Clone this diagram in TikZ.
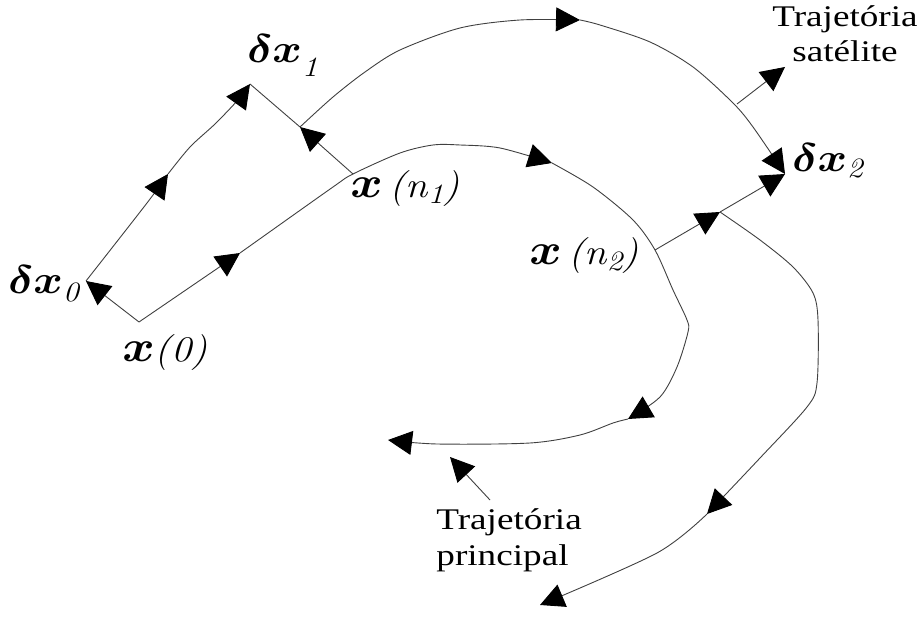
\RequirePackage{fix-cm}
\documentclass[tikz,border=0pt]{standalone}
\usepackage{bm}
\usepackage{fontspec}
\newfontfamily\tms{Liberation Serif}
\usepackage{graphicx}
\usetikzlibrary{arrows.meta}
\newcommand{\hstr}[1]{\scalebox{1.24}[1]{#1}}
\newcommand{\mstr}[1]{\scalebox{1.12}[1]{#1}}
\newcommand{\bx}[1]{{\fontsize{#1}{#1}\selectfont$\bm{x}$}}
\newcommand{\dl}{{\fontsize{20}{20}\selectfont$\bm{\delta}$}}
\newcommand{\sbs}[2]{\raisebox{#1}{\fontsize{14}{14}\selectfont\itshape #2}}
\newcommand{\itx}[1]{{\fontsize{18}{18}\selectfont\itshape #1}}
\begin{document}
\begin{tikzpicture}[x=0.5pt,y=-0.5pt,
  >={Triangle[length=12pt,width=12pt,color=black]},
  traj/.style={draw=black!75, line width=0.45pt, ->},
  plain/.style={draw=black!75, line width=0.45pt},
  lbl/.style={inner sep=0pt, anchor=base west},
  captxt/.style={inner sep=0pt, font=\tms\fontsize{15}{17.5}\selectfont}]
\useasboundingbox (0,0) rectangle (920,619);
% key points
\coordinate (x0) at (139,322);
\coordinate (xn1) at (353,174);
\coordinate (xn2) at (655,250);
\coordinate (dx0) at (86,281);
\coordinate (dx1) at (250,84);
\coordinate (dx2) at (785,174);
\coordinate (m1) at (300,127);
\coordinate (m2) at (720,212);
\coordinate (a1) at (240,253);
\coordinate (a2) at (552,163);
\coordinate (a3) at (628,419);
\coordinate (s1) at (168,174);
\coordinate (s2) at (580,20);
\coordinate (s3) at (707,514);
\coordinate (endP) at (388,440);
\coordinate (endS) at (540,605);
\coordinate (satA) at (737,104);
\coordinate (satT) at (785,67);
\coordinate (prA) at (490,500);
\coordinate (prT) at (450,457);
% main trajectory
\draw[traj] (x0) -- (a1);
\draw[traj] plot[smooth] coordinates {(a1) (333,187) (xn1) (400,153) (433,145) (460,145) (500,148) (a2)};
\draw[traj] plot[smooth] coordinates {(a2) (593,187) (633,220) (xn2) (673,290) (687,320) (688,332) (677,367) (660,397) (a3)};
\draw[traj] plot[smooth] coordinates {(a3) (613,423) (580,435) (530,443) (437,444) (endP)};
% perturbations
\draw[traj] (x0) -- (dx0);
\draw[traj] (xn1) -- (m1);
\draw[plain] (m1) -- (dx1);
\draw[traj] (xn2) -- (m2);
\draw[traj] (m2) -- (dx2);
% satellite trajectory
\draw[traj] plot[smooth] coordinates {(dx0) (147,203) (s1)};
\draw[traj] plot[smooth] coordinates {(s1) (190,147) (215,124) (237,101) (dx1)};
\draw[traj] plot[smooth] coordinates {(m1) (333,97) (365,72) (400,50) (460,28) (520,20) (s2)};
\draw[traj] plot[smooth] coordinates {(s2) (600,25) (650,42) (693,67) (733,103) (753,127) (dx2)};
\draw[traj] plot[smooth] coordinates {(m2) (760,240) (793,267) (813,293) (818,320) (817,383) (807,407) (760,458) (s3)};
\draw[traj] plot[smooth] coordinates {(s3) (657,553) (endS)};
% label pointers
\draw[traj] (satA) -- (satT);
\draw[traj] (prA) -- (prT);
% labels
\node[lbl] (ldx1) at (247,63) {\mstr{\dl\bx{20}\sbs{-7pt}{1}}};
\node[lbl] (ldx0) at (8,294) {\mstr{\dl\bx{20}\sbs{-4pt}{0}}};
\node[lbl] (ldx2) at (792,172) {\mstr{\dl\bx{20}\sbs{-3pt}{2}}};
\node[lbl] (lx0) at (122,362) {\mstr{\bx{22}\itx{(0)}}};
\node[lbl] (lxn1) at (350,198) {\mstr{\bx{22}\hspace{3pt}\itx{(n}\sbs{-3pt}{1}\itx{)}}};
\node[lbl] (lxn2) at (529,265) {\mstr{\bx{22}\hspace{3pt}\itx{(n}\sbs{-3pt}{2}\itx{)}}};
\node[captxt, align=center, anchor=base] (lsat) at (845,62) {\hstr{Trajetória}\\\hstr{satélite}};
\node[captxt, align=left, anchor=base west] (lpri) at (436,565) {\hstr{Trajetória}\\\hstr{principal}};
\end{tikzpicture}
\end{document}
